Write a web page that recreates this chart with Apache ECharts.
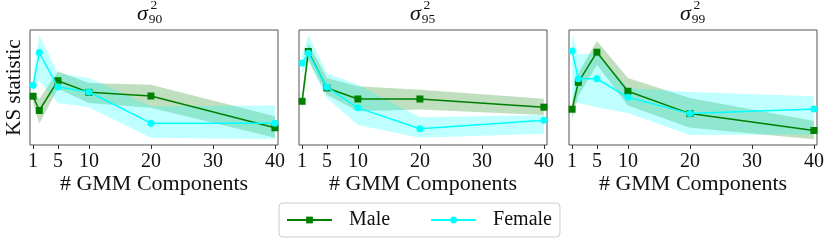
<!DOCTYPE html>
<html>
<head>
<meta charset="utf-8">
<script src="https://cdn.jsdelivr.net/npm/echarts@6/dist/echarts.min.js"></script>
<style>
html,body{margin:0;padding:0;background:#fff;}
#chart{width:831px;height:243px;}
</style>
</head>
<body>
<div id="chart"></div>
<script>
// ---- data ----
const xValues = [1, 2, 5, 10, 20, 40];
const xTicks = [1, 5, 10, 20, 30, 40];
const panelSubs = ['90', '95', '99'];
const seriesNames = ['Male', 'Female'];

const male90 = [0.424, 0.300, 0.559, 0.458, 0.426, 0.150];
const male90Lo = [0.366, 0.187, 0.490, 0.366, 0.323, 0.063];
const male90Hi = [0.458, 0.400, 0.640, 0.539, 0.524, 0.250];
const female90 = [0.519, 0.804, 0.504, 0.461, 0.190, 0.190];
const female90Lo = [0.452, 0.560, 0.366, 0.329, 0.063, 0.049];
const female90Hi = [0.590, 0.957, 0.625, 0.582, 0.337, 0.343];

const male95 = [0.380, 0.813, 0.496, 0.400, 0.400, 0.329];
const male95Lo = [0.308, 0.740, 0.438, 0.294, 0.308, 0.260];
const male95Hi = [0.438, 0.885, 0.582, 0.510, 0.481, 0.403];
const female95 = [0.712, 0.798, 0.504, 0.323, 0.141, 0.216];
const female95Lo = [0.625, 0.727, 0.409, 0.173, 0.063, 0.098];
const female95Hi = [0.784, 0.957, 0.625, 0.524, 0.242, 0.260];

const male99 = [0.311, 0.545, 0.807, 0.467, 0.273, 0.126];
const male99Lo = [0.221, 0.424, 0.697, 0.343, 0.150, 0.049];
const male99Hi = [0.366, 0.625, 0.905, 0.582, 0.409, 0.208];
const female99 = [0.818, 0.576, 0.576, 0.415, 0.273, 0.314];
const female99Lo = [0.375, 0.366, 0.329, 0.279, 0.087, 0.092];
const female99Hi = [0.957, 0.790, 0.798, 0.496, 0.461, 0.424];

// ---- layout / style ----
const panels = [
  {m: male90, mLo: male90Lo, mHi: male90Hi, f: female90, fLo: female90Lo, fHi: female90Hi},
  {m: male95, mLo: male95Lo, mHi: male95Hi, f: female95, fLo: female95Lo, fHi: female95Hi},
  {m: male99, mLo: male99Lo, mHi: male99Hi, f: female99, fLo: female99Lo, fHi: female99Hi}
];
const gridLefts = [30, 299, 569];
const gridWidth = 248;
const gridTop = 30;
const gridHeight = 115;
const titleCenters = [150, 423, 693];
const FONT = '"Liberation Serif", "DejaVu Serif", serif';
const GREEN = '#008000';
const CYAN = '#00ffff';

const grids = [], xAxes = [], yAxes = [], series = [], graphics = [];

const pairs = (ys) => ys.map((v, i) => [xValues[i], v]);

function bandSeries(k, lo, hi, color, z) {
  const data = xValues.map((x, i) => [x, lo[i], hi[i]]);
  return {
    type: 'custom', xAxisIndex: k, yAxisIndex: k, silent: true, z: z,
    data: data,
    encode: {x: 0, y: [1, 2]},
    renderItem: function (params, api) {
      if (params.dataIndex !== 0) return null;
      const upper = data.map(d => api.coord([d[0], d[2]]));
      const lower = data.map(d => api.coord([d[0], d[1]])).reverse();
      return {
        type: 'polygon',
        shape: {points: upper.concat(lower)},
        style: {fill: color, opacity: 0.25, stroke: null}
      };
    }
  };
}

panels.forEach((p, k) => {
  grids.push({
    left: gridLefts[k], top: gridTop, width: gridWidth, height: gridHeight,
    show: true, borderColor: '#555', borderWidth: 1, backgroundColor: 'transparent'
  });
  xAxes.push({
    type: 'value', gridIndex: k, min: 0.5, max: 40.5,
    axisLine: {show: false, onZero: false},
    splitLine: {show: false},
    axisTick: {show: true, customValues: xTicks, length: 4, lineStyle: {color: '#333', width: 1}},
    axisLabel: {customValues: xTicks, margin: 7, fontFamily: FONT, fontSize: 20, color: '#111'},
    name: '# GMM Components', nameLocation: 'middle', nameGap: 26,
    nameTextStyle: {fontFamily: FONT, fontSize: 22, color: '#111'}
  });
  yAxes.push({
    type: 'value', gridIndex: k, min: 0, max: 1,
    axisLine: {show: false}, axisTick: {show: false}, axisLabel: {show: false}, splitLine: {show: false},
    name: k === 0 ? 'KS statistic' : '', nameLocation: 'middle', nameGap: 5, nameRotate: 90,
    nameTextStyle: {fontFamily: FONT, fontSize: 21, color: '#111'}
  });

  series.push(bandSeries(k, p.mLo, p.mHi, GREEN, 1));
  series.push(bandSeries(k, p.fLo, p.fHi, CYAN, 1));

  series.push({
    type: 'line', name: 'Male', xAxisIndex: k, yAxisIndex: k, data: pairs(p.m),
    symbol: 'rect', symbolSize: 7, color: GREEN, itemStyle: {color: GREEN},
    lineStyle: {color: GREEN, width: 1.5}, z: 3
  });
  series.push({
    type: 'line', name: 'Female', xAxisIndex: k, yAxisIndex: k, data: pairs(p.f),
    symbol: 'circle', symbolSize: 7, color: CYAN, itemStyle: {color: CYAN},
    lineStyle: {color: CYAN, width: 1.5}, z: 4
  });

  const c = titleCenters[k];
  graphics.push({type: 'text', x: c - 13, y: 14, style: {text: 'σ', fontFamily: FONT, fontStyle: 'italic', fontSize: 22, fill: '#111', align: 'left', verticalAlign: 'middle'}});
  graphics.push({type: 'text', x: c + 0.5, y: 5.5, style: {text: '2', fontFamily: FONT, fontSize: 13.5, fill: '#111', align: 'left', verticalAlign: 'middle'}});
  graphics.push({type: 'text', x: c - 1.3, y: 19.5, style: {text: panelSubs[k], fontFamily: FONT, fontSize: 13.5, fill: '#111', align: 'left', verticalAlign: 'middle'}});
});

const chart = echarts.init(document.getElementById('chart'), null, {renderer: 'canvas'});
chart.setOption({
  animation: false,
  backgroundColor: '#fff',
  grid: grids,
  xAxis: xAxes,
  yAxis: yAxes,
  series: series,
  graphic: graphics,
  legend: {
    data: seriesNames, left: 279, top: 203, orient: 'horizontal',
    itemWidth: 45, itemHeight: 8.5, itemGap: 40,
    padding: [7, 8, 7, 7],
    borderColor: '#ccc', borderWidth: 1, borderRadius: 4, backgroundColor: '#fff',
    textStyle: {fontFamily: FONT, fontSize: 20, color: '#111', padding: [0, 0, 0, 12]}
  }
});
</script>
</body>
</html>
